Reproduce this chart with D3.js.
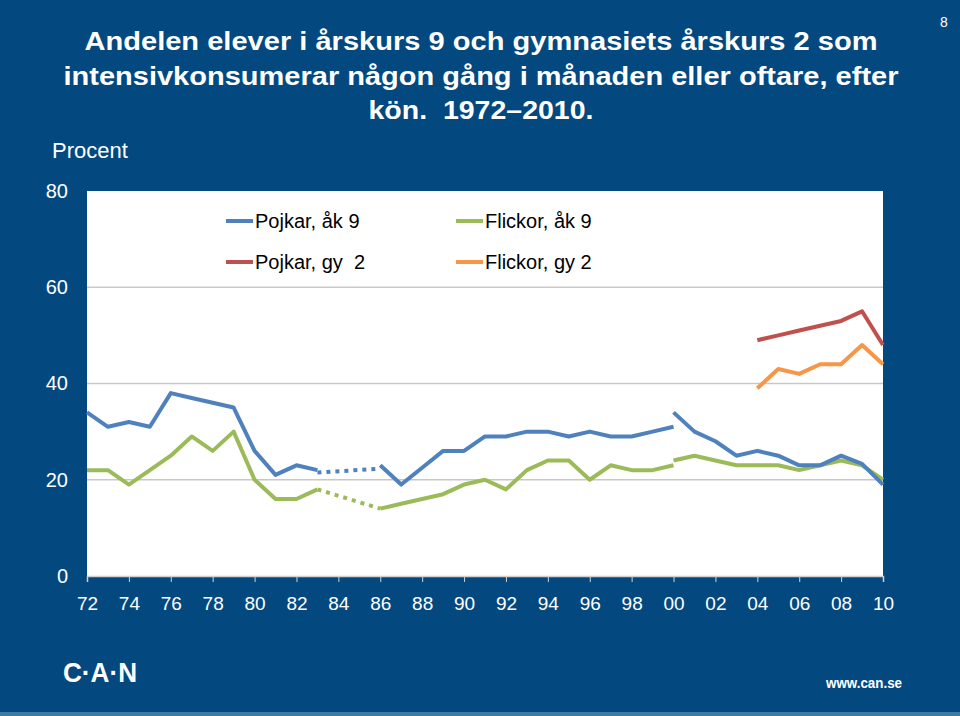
<!DOCTYPE html>
<html>
<head>
<meta charset="utf-8">
<script src="https://cdn.jsdelivr.net/npm/d3@7"></script>
<style>
  html, body { margin: 0; padding: 0; background: #03497f; }
  svg { display: block; }
  text { white-space: pre; }
</style>
</head>
<body>
<svg id="chart" width="960" height="716"></svg>
<script>
// ---------- DATA ----------
const titleLines = [
  "Andelen elever i årskurs 9 och gymnasiets årskurs 2 som",
  "intensivkonsumerar någon gång i månaden eller oftare, efter",
  "kön.  1972–2010."
];
const yTicks = [0, 20, 40, 60, 80];
const xTickYears = [1972,1974,1976,1978,1980,1982,1984,1986,1988,1990,1992,1994,1996,1998,2000,2002,2004,2006,2008,2010];
const xTickLabels = ["72","74","76","78","80","82","84","86","88","90","92","94","96","98","00","02","04","06","08","10"];

const yearsOld = [1972,1973,1974,1975,1976,1977,1978,1979,1980,1981,1982,1983,1984,1985,1986,1987,1988,1989,1990,1991,1992,1993,1994,1995,1996,1997,1998,1999,2000];
const pojkarAk9Old  = [34,31,32,31,38,37,36,35,26,21,23,22,null,null,23,19,22.5,26,26,29,29,30,30,29,30,29,29,30,31];
const flickorAk9Old = [22,22,19,22,25,29,26,30,20,16,16,18,null,null,14,15,16,17,19,20,18,22,24,24,20,23,22,22,23];

const yearsGap = [1983, 1986];
const pojkarAk9Gap  = [21.5, 22.3];
const flickorAk9Gap = [18, 14];

const yearsNew = [2000,2001,2002,2003,2004,2005,2006,2007,2008,2009,2010];
const pojkarAk9New  = [34,30,28,25,26,25,23,23,25,23.3,19];
const flickorAk9New = [24,25,24,23,23,23,22,23,24,23,20];

const yearsGy = [2004,2005,2006,2007,2008,2009,2010];
const pojkarGy2  = [49,50,51,52,53,55,48];
const flickorGy2 = [39,43,42,44,44,48,44];

const legendItems = [
  {label: "Pojkar, åk 9", color: "#4f81bd", col: 0, row: 0},
  {label: "Flickor, åk 9", color: "#9bbb59", col: 1, row: 0},
  {label: "Pojkar, gy  2", color: "#c0504d", col: 0, row: 1},
  {label: "Flickor, gy 2", color: "#f79646", col: 1, row: 1}
];

// ---------- DRAW ----------
const svg = d3.select("#chart");
const bg = "#03497f";
const font = "Liberation Sans, Arial, sans-serif";
svg.append("rect").attr("width", 960).attr("height", 716).attr("fill", bg);
svg.append("rect").attr("x", 0).attr("y", 712).attr("width", 960).attr("height", 4).attr("fill", "#3f7aa6");

const x = d3.scaleLinear().domain([1972, 2010]).range([87, 883]);
const y = d3.scaleLinear().domain([0, 80]).range([576, 191]);

// plot area
svg.append("rect")
  .attr("x", x(1972)).attr("y", y(80))
  .attr("width", x(2010) - x(1972)).attr("height", y(0) - y(80))
  .attr("fill", "#ffffff");

// gridlines
svg.append("g").selectAll("line").data(yTicks.filter(t => t > 0 && t < 80)).join("line")
  .attr("x1", x(1972)).attr("x2", x(2010))
  .attr("y1", d => y(d)).attr("y2", d => y(d))
  .attr("stroke", "#c8c8c8").attr("stroke-width", 1.5);

// y axis labels
const yAxis = d3.axisLeft(y).tickValues(yTicks).tickSize(0).tickPadding(0);
const gy = svg.append("g").attr("transform", `translate(68,0)`).call(yAxis);
gy.select(".domain").remove();
gy.selectAll("text")
  .attr("fill", "#ffffff")
  .attr("font-family", font)
  .attr("font-size", 20);

// x axis
const xAxis = d3.axisBottom(x).tickValues(xTickYears)
  .tickFormat((d, i) => xTickLabels[i]).tickSize(6).tickPadding(15);
const gx = svg.append("g").attr("transform", `translate(0,${y(0)})`).call(xAxis);
gx.select(".domain").attr("stroke", "#d0d0d0").attr("stroke-width", 1.5);
gx.selectAll(".tick line").attr("stroke", "#d0d0d0");
gx.selectAll("text")
  .attr("fill", "#ffffff")
  .attr("font-family", font)
  .attr("font-size", 19);

// lines
const line = d3.line().defined(d => d[1] != null).x(d => x(d[0])).y(d => y(d[1]));
function zip(xs, ys) { return xs.map((v, i) => [v, ys[i]]); }

function drawLine(xs, ys, color, dashed) {
  svg.append("path")
    .datum(zip(xs, ys))
    .attr("d", line)
    .attr("fill", "none")
    .attr("stroke", color)
    .attr("stroke-width", 4)
    .attr("stroke-linejoin", "round")
    .attr("stroke-dasharray", dashed ? "4 5" : null);
}

drawLine(yearsOld, flickorAk9Old, "#9bbb59");
drawLine(yearsGap, flickorAk9Gap, "#9bbb59", true);
drawLine(yearsNew, flickorAk9New, "#9bbb59");
drawLine(yearsOld, pojkarAk9Old, "#4f81bd");
drawLine(yearsGap, pojkarAk9Gap, "#4f81bd", true);
drawLine(yearsNew, pojkarAk9New, "#4f81bd");
drawLine(yearsGy, pojkarGy2, "#c0504d");
drawLine(yearsGy, flickorGy2, "#f79646");

// legend
const lg = svg.append("g");
legendItems.forEach(it => {
  const lx = 226 + it.col * 230;
  const ly = 221 + it.row * 41;
  lg.append("line").attr("x1", lx).attr("x2", lx + 27).attr("y1", ly).attr("y2", ly)
    .attr("stroke", it.color).attr("stroke-width", 4);
  lg.append("text").attr("x", lx + 29).attr("y", ly + 7)
    .attr("fill", "#000").attr("font-family", font)
    .attr("font-size", 20).text(it.label);
});

// title
const titleSpecs = [
  {y: 50, w: 793},
  {y: 85, w: 835},
  {y: 119, w: 225}
];
titleLines.forEach((t, i) => {
  svg.append("text")
    .attr("x", 481).attr("y", titleSpecs[i].y)
    .attr("text-anchor", "middle")
    .attr("fill", "#ffffff")
    .attr("font-family", font)
    .attr("font-weight", "bold")
    .attr("font-size", 26)
    .attr("textLength", titleSpecs[i].w)
    .attr("lengthAdjust", "spacingAndGlyphs")
    .text(t);
});

svg.append("text").attr("x", 52).attr("y", 158)
  .attr("fill", "#ffffff").attr("font-family", font)
  .attr("font-size", 22).text("Procent");

svg.append("text").attr("x", 944).attr("y", 27).attr("text-anchor", "middle")
  .attr("fill", "#ffffff").attr("font-family", font)
  .attr("font-size", 14).text("8");

// footer
svg.append("text").attr("x", 63).attr("y", 682)
  .attr("fill", "#ffffff").attr("font-family", font)
  .attr("font-weight", "bold").attr("font-size", 27)
  .attr("textLength", 74).attr("lengthAdjust", "spacingAndGlyphs")
  .text("C·A·N");
svg.append("text").attr("x", 826).attr("y", 688)
  .attr("fill", "#ffffff").attr("font-family", font)
  .attr("font-weight", "bold").attr("font-size", 14)
  .attr("textLength", 76).attr("lengthAdjust", "spacingAndGlyphs")
  .text("www.can.se");
</script>
</body>
</html>
